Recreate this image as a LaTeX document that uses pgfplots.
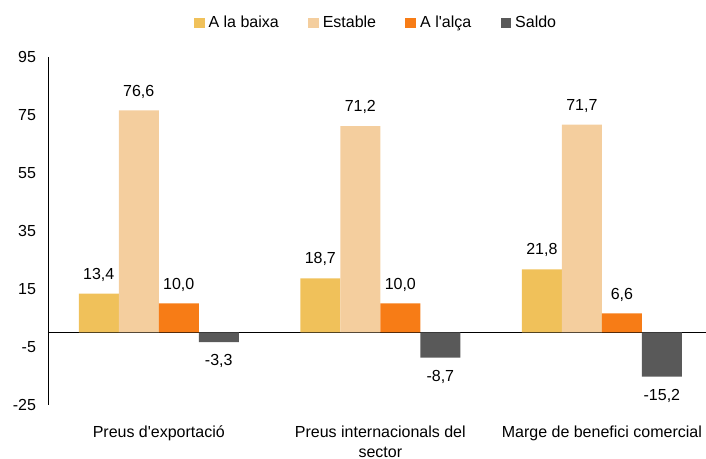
\documentclass[border=0pt]{standalone}
\usepackage{pgfplots}
\pgfplotsset{compat=1.18}
\usepackage{fontspec}
\setmainfont{Liberation Sans}
\definecolor{cBaixa}{HTML}{F0C15A}
\definecolor{cEstable}{HTML}{F4CE9E}
\definecolor{cAlca}{HTML}{F77C16}
\definecolor{cSaldo}{HTML}{595959}
\pgfplotsset{sq/.style={legend image code/.code={\fill[##1,draw=none] (0pt,-4pt) rectangle (8pt,4pt);}}}
\begin{document}
\begin{tikzpicture}
\begin{axis}[
  name=ax,
  scale only axis, width=493.5pt, height=261pt,
  ybar=0pt, bar width=30pt,
  xmin=-0.5, xmax=2.47, ymin=-25, ymax=95,
  ytick={-25,-5,15,35,55,75,95},
  xtick={0,1,2},
  xticklabels={Preus d\textquotesingle exportació, {Preus internacionals del\\sector}, Marge de benefici comercial},
  axis y line*=left, axis x line*=bottom,
  x axis line style={draw=none},
  y axis line style={black, line width=0.6pt},
  major tick length=0pt,
  tick label style={font=\fontsize{12}{14}\selectfont},
  xticklabel style={align=center, yshift=-12pt, font=\fontsize{12}{15}\selectfont},
  yticklabel style={xshift=-5.5pt},
  /pgf/number format/assume math mode=true,
  extra y ticks={0}, extra y tick labels={},
  extra y tick style={grid=major, major grid style={black, line width=0.6pt}},
  nodes near coords,
  nodes near coords style={font=\fontsize{12}{14}\selectfont, inner sep=9pt, text=black,
    /pgf/number format/.cd, fixed, fixed zerofill, precision=1, use comma, assume math mode=true},
  legend style={at={(0.5,1)}, anchor=center, yshift=25.5pt, draw=none, fill=none,
    legend columns=4, font=\fontsize{12}{14}\selectfont,
    /tikz/every even column/.append style={column sep=19pt},
    /tikz/every odd column/.append style={column sep=0pt},
    nodes={inner xsep=3pt}},
]
\addplot[fill=cBaixa, draw=none, sq] coordinates {(0,13.4) (1,18.7) (2,21.8)};
\addplot[fill=cEstable, draw=none, sq] coordinates {(0,76.6) (1,71.2) (2,71.7)};
\addplot[fill=cAlca, draw=none, sq] coordinates {(0,10.0) (1,10.0) (2,6.6)};
\addplot[fill=cSaldo, draw=none, sq] coordinates {(0,-3.3) (1,-8.7) (2,-15.2)};
\legend{A la baixa, Estable, A l\textquotesingle alça, Saldo}
\end{axis}
\pgfresetboundingbox
\useasboundingbox ([xshift=-36pt,yshift=-40.5pt]ax.south west) rectangle ([yshift=42.75pt]ax.north east);
\end{tikzpicture}
\end{document}
